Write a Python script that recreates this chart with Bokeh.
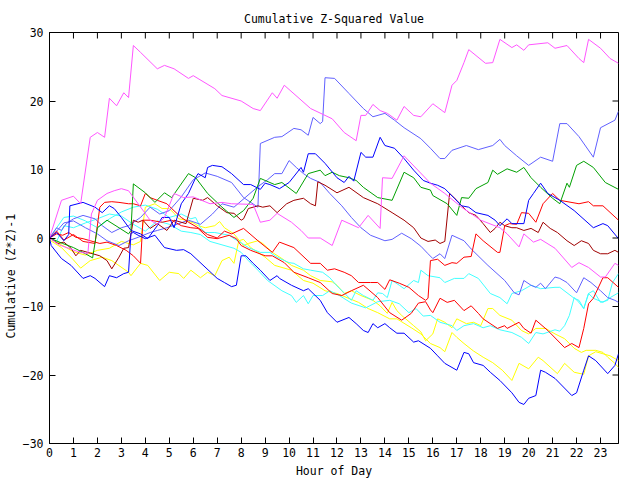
from bokeh.plotting import figure
from bokeh.models import Range1d, FixedTicker, Title
from bokeh.embed import file_html
from bokeh.resources import INLINE

x_ticks = list(range(24))
y_ticks = [-30, -20, -10, 0, 10, 20, 30]

# (hour, cumulative value) pairs
magenta_1 = [(0,0),(0.5,5.5),(1.0,6.1),(1.3,5.0),(1.7,14.7),(2.0,15.4),(2.3,14.7),(2.5,20.4),(2.8,19.3),(3.1,21.2),(3.3,20.5),(3.5,28.1),(3.8,27.1),(4.5,24.7),(4.8,25.2),(5.2,24.7),(5.8,23.3),(6.0,23.7),(6.9,21.8),(7.2,20.8),(8.0,20.0),(8.5,18.9),(8.8,18.6),(9.3,21.2),(9.5,20.4),(9.8,22.3),(10.9,18.9),(11.8,17.4),(12.3,15.4),(12.8,14.2),(13.0,17.9),(13.2,17.9),(13.5,19.5),(13.8,18.6),(14.1,18.2),(14.5,17.2),(14.8,19.2),(15.2,17.9),(15.5,17.7),(16.0,19.6),(16.5,18.3),(16.8,22.3),(17.0,23.0),(17.3,25.6),(17.5,27.5),(18.2,25.5),(18.5,25.6),(18.8,29.0),(19.3,27.8),(19.5,28.2),(19.8,27.4),(20.0,28.2),(20.8,28.5),(21.1,27.7),(21.6,28.1),(22.1,26.2),(22.3,25.6),(22.5,29.0),(23.0,27.7),(23.4,26.2),(23.75,25.5)]
magenta_2 = [(0,0),(0.4,-1.0),(0.8,-1.5),(1.2,-2.0),(1.6,-2.3),(1.75,3.5),(2.0,5.5),(2.4,6.5),(2.7,6.9),(3.0,7.2),(3.3,6.9),(3.7,5.0),(4.2,2.6),(4.5,2.0),(4.8,3.0),(5.2,6.5),(5.6,5.9),(6.0,6.0),(6.7,5.0),(7.2,5.2),(7.6,5.0),(8.5,4.9),(8.8,2.3),(9.2,2.6),(9.5,3.6),(10.1,2.3),(10.5,1.1),(10.8,0.0),(11.3,0.0),(11.8,-1.1),(12.2,2.6),(12.9,1.5),(13.3,3.3),(13.8,1.4),(13.9,8.8),(14.3,8.7),(14.8,12.0),(15.9,8.0),(16.5,6.5),(17.2,4.5),(18.0,2.6),(18.8,1.5),(19.1,0.6),(19.6,-1.3),(19.8,0.6),(20.2,-0.6),(20.5,-0.2),(21.1,-1.5),(21.8,-4.3),(22.1,-3.6),(22.5,-4.3),(23.0,-5.7),(23.2,-5.7),(23.6,-3.7),(23.75,-4.0)]
lightblue_1 = [(0,0),(0.3,1.5),(0.5,1.1),(0.7,2.1),(1.0,2.8),(1.4,3.3),(1.9,2.8),(2.2,1.8),(2.6,0.8),(3.0,1.5),(3.3,1.8),(3.8,3.0),(4.2,4.5),(4.6,3.5),(5.0,4.0),(5.5,6.0),(6.0,8.5),(6.5,9.5),(7.0,9.0),(7.6,8.1),(8.1,5.9),(8.7,4.5),(8.8,13.8),(9.4,14.7),(9.7,14.8),(10.2,16.0),(10.5,15.8),(10.8,15.0),(11.0,17.6),(11.3,16.7),(11.4,17.0),(11.5,23.4),(11.9,23.3),(12.5,21.1),(13.1,18.9),(13.5,17.7),(14.0,18.2),(14.4,17.2),(14.8,16.1),(15.5,14.5),(15.9,13.1),(16.3,11.6),(16.5,11.6),(16.8,12.8),(17.4,13.5),(17.9,12.9),(18.5,13.5),(18.8,14.4),(19.0,13.5),(19.5,12.0),(20.0,10.6),(20.5,11.8),(21.0,11.2),(21.3,16.7),(21.6,16.7),(22.1,14.8),(22.7,11.8),(23.0,16.1),(23.6,17.2),(23.75,18.5)]
green_1 = [(0,0),(0.55,-0.8),(1.0,-1.4),(1.5,-2.3),(1.8,-2.9),(2.0,1.5),(2.4,2.6),(2.9,1.5),(3.3,0.6),(3.4,1.1),(3.5,7.9),(4.0,6.6),(4.4,5.2),(4.8,6.6),(5.1,5.9),(5.8,9.4),(6.1,8.8),(6.6,6.5),(7.2,4.5),(7.7,3.0),(8.1,4.0),(8.5,5.8),(8.8,8.7),(9.0,8.4),(9.4,7.8),(9.7,8.1),(10.3,6.5),(10.8,9.4),(11.3,9.9),(11.5,9.1),(11.8,9.6),(12.1,9.1),(12.5,8.8),(12.8,8.4),(13.1,7.4),(13.7,5.9),(14.3,5.5),(14.8,9.6),(15.2,8.8),(15.5,7.4),(15.9,7.0),(16.0,6.2),(16.6,5.0),(17.0,3.3),(17.2,5.9),(17.5,5.8),(17.8,7.2),(18.3,8.1),(18.5,9.9),(18.7,9.3),(19.1,10.1),(19.5,9.6),(19.8,10.3),(20.1,8.8),(20.5,7.4),(21.0,5.8),(21.3,5.0),(21.6,8.0),(21.7,7.4),(22.0,10.6),(22.3,11.2),(22.7,10.3),(23.2,8.1),(23.75,7.1)]
red_1 = [(0,0),(0.3,1.0),(0.6,-0.3),(1.0,0.5),(1.4,-0.5),(1.9,-0.8),(2.1,4.5),(2.3,5.2),(2.6,5.3),(2.9,5.2),(3.3,5.0),(3.5,5.0),(3.8,4.7),(4.0,6.5),(4.2,5.9),(4.5,5.5),(4.9,5.0),(5.1,4.3),(5.5,3.0),(5.8,2.3),(6.2,1.5),(6.6,0.5),(7.0,0.0),(7.3,1.0),(7.6,0.6),(8.1,1.4),(8.7,-0.4),(9.3,-2.1),(9.6,-0.6),(10.2,-1.4),(10.9,-3.7),(11.3,-3.7),(11.6,-4.7),(11.9,-4.5),(12.3,-5.0),(12.6,-5.5),(12.9,-6.5),(13.4,-6.5),(13.7,-6.5),(14.0,-7.5),(14.2,-6.1),(14.6,-6.6),(15.0,-7.2),(15.4,-8.4),(15.7,-9.1),(15.8,-8.8),(15.9,-3.3),(16.2,-3.1),(16.5,-4.0),(16.8,-3.6),(17.0,-3.7),(17.3,-2.8),(17.6,-2.7),(17.8,0.6),(18.1,-0.4),(18.7,-2.1),(18.8,-2.1),(19.0,1.8),(19.2,2.1),(19.5,2.0),(19.7,3.7),(20.0,3.6),(20.3,2.3),(20.6,5.0),(21.0,6.5),(21.3,5.5),(22.1,5.0),(22.5,5.3),(22.7,4.7),(23.1,4.7),(23.75,2.6)]
blue_1 = [(0,0),(0.3,0.8),(0.6,-0.4),(0.8,0.5),(0.85,4.7),(1.4,5.2),(1.9,4.5),(2.2,3.7),(2.5,4.7),(2.7,4.3),(3.0,3.0),(3.4,1.1),(3.8,0.6),(4.1,-0.1),(4.5,1.8),(4.7,3.0),(5.0,3.0),(5.2,1.5),(5.5,5.0),(5.8,6.5),(6.1,8.8),(6.2,9.4),(6.5,8.8),(6.6,10.3),(6.8,10.6),(7.2,10.4),(7.6,9.4),(8.1,7.8),(8.4,7.8),(8.8,7.1),(9.0,8.0),(9.2,7.8),(9.6,7.2),(10.0,8.1),(10.5,10.3),(10.6,9.6),(10.8,12.3),(11.1,12.3),(11.5,10.9),(12.0,8.8),(12.3,8.1),(12.5,9.0),(12.7,8.3),(13.0,12.5),(13.2,11.8),(13.5,11.8),(13.8,14.7),(14.0,13.5),(14.4,13.1),(14.8,11.6),(15.2,9.9),(15.6,8.4),(15.9,8.0),(16.2,7.7),(16.5,7.2),(16.9,5.8),(17.2,4.7),(17.5,4.5),(17.8,3.7),(18.3,3.3),(18.6,2.6),(18.8,1.8),(19.1,2.8),(19.3,2.1),(19.8,2.1),(20.0,5.5),(20.2,6.5),(20.5,8.0),(20.8,6.5),(21.3,5.5),(21.9,4.0),(22.7,1.5),(23.1,2.1),(23.3,1.8),(23.75,-0.1)]
darkred_1 = [(0,0),(0.35,-0.8),(0.6,-0.6),(0.9,-1.5),(1.1,-2.6),(1.3,-1.8),(1.6,-2.1),(2.1,-2.6),(2.4,-3.3),(2.6,-4.5),(2.9,-2.8),(3.1,-1.5),(3.3,-1.4),(3.5,2.6),(3.7,2.3),(3.9,2.6),(4.2,1.4),(4.5,2.1),(4.9,1.1),(5.2,2.6),(5.7,2.1),(6.0,5.8),(6.4,5.5),(6.6,5.9),(7.0,4.7),(7.4,3.7),(7.7,3.6),(8.0,2.6),(8.1,2.8),(8.3,4.3),(8.7,4.7),(8.9,4.5),(9.2,4.7),(9.5,3.7),(9.9,5.0),(10.2,5.5),(10.6,5.8),(10.9,5.0),(11.1,4.7),(11.2,8.2),(11.5,7.7),(12.0,6.6),(12.5,7.4),(13.1,5.9),(13.7,5.0),(14.3,3.7),(14.8,2.6),(15.2,1.5),(15.5,0.0),(15.8,-0.5),(16.1,-0.3),(16.3,-0.8),(16.5,-0.5),(16.7,6.5),(17.0,5.5),(17.2,4.7),(17.5,3.7),(17.8,3.3),(18.1,2.1),(18.4,0.8),(18.6,1.4),(18.8,2.3),(19.0,1.8),(19.3,1.5),(19.5,1.5),(19.8,1.1),(20.1,1.4),(20.4,0.8),(20.6,2.3),(20.9,1.4),(21.2,0.8),(21.6,-0.4),(21.9,-1.1),(22.2,-0.4),(22.5,-0.8),(22.7,-1.8),(23.0,-2.3),(23.3,-2.3),(23.6,-1.8),(23.75,-2.1)]
red_2 = [(0,0),(0.3,0.6),(0.55,0.4),(0.8,0.8),(1.1,0.1),(1.4,-0.1),(1.7,-0.4),(2.1,-0.8),(2.4,-0.6),(2.8,-1.1),(3.2,-1.8),(3.5,-2.6),(3.8,-3.7),(3.9,2.6),(4.2,2.6),(4.7,2.3),(5.1,2.6),(5.5,1.8),(5.9,1.5),(6.2,1.4),(6.6,0.1),(7.0,-0.1),(7.5,0.4),(7.8,-0.1),(8.0,-1.1),(8.4,-1.8),(9.0,-2.6),(9.3,-2.6),(9.8,-3.6),(10.2,-5.0),(10.8,-5.8),(11.3,-6.5),(11.8,-8.1),(12.2,-8.4),(12.6,-7.7),(13.1,-6.9),(13.7,-8.7),(14.2,-10.9),(14.7,-12.0),(15.1,-11.0),(15.4,-9.5),(15.7,-9.3),(15.9,-10.5),(16.0,-10.9),(16.3,-8.8),(16.6,-9.4),(16.9,-9.1),(17.3,-10.6),(17.6,-9.9),(17.9,-11.0),(18.1,-11.8),(18.7,-13.2),(19.0,-12.8),(19.1,-13.2),(19.6,-12.3),(19.8,-13.2),(20.1,-13.9),(20.3,-12.0),(20.8,-13.5),(21.5,-16.0),(21.8,-15.4),(22.1,-16.0),(22.3,-13.2),(22.5,-9.6),(22.7,-8.8),(23.1,-5.8),(23.3,-5.8),(23.75,-7.2)]
cyan_1 = [(0,0),(0.3,1.5),(0.6,3.0),(1.0,3.2),(1.5,2.5),(2.0,1.5),(2.5,2.8),(3.0,3.8),(3.5,4.5),(4.0,4.8),(4.5,4.2),(5.0,3.0),(5.5,3.5),(5.9,2.8),(6.1,3.0),(6.3,1.5),(6.5,0.8),(6.9,0.8),(7.2,0.6),(7.5,0.4),(7.7,-0.1),(8.0,-0.7),(8.3,-1.4),(8.8,-2.1),(9.2,-2.1),(9.5,-2.8),(10.0,-3.6),(10.2,-3.7),(10.6,-4.5),(10.9,-4.7),(11.4,-5.0),(11.7,-5.8),(12.0,-7.0),(12.3,-8.0),(12.6,-9.1),(12.8,-7.7),(13.1,-8.4),(13.5,-9.1),(13.7,-8.0),(13.9,-8.1),(14.1,-8.7),(14.3,-6.2),(14.6,-6.9),(14.8,-7.4),(15.2,-6.2),(15.4,-6.5),(15.5,-4.7),(15.8,-5.5),(16.3,-5.8),(16.5,-6.5),(16.9,-5.9),(17.3,-5.9),(17.5,-5.2),(17.9,-5.9),(18.4,-8.1),(18.8,-8.7),(19.1,-9.6),(19.3,-8.1),(19.7,-7.7),(20.1,-6.9),(20.5,-7.4),(21.1,-7.2),(21.3,-7.2),(21.9,-8.8),(22.1,-9.1),(22.3,-10.3),(22.5,-8.1),(22.7,-8.8),(23.1,-9.4),(23.4,-8.7),(23.75,-8.0)]
cyan_2 = [(0,0),(0.3,-0.5),(0.6,1.8),(1.0,1.5),(1.5,2.2),(2.0,2.8),(2.5,3.5),(3.0,3.2),(3.5,2.0),(4.0,1.0),(4.5,2.5),(5.0,2.0),(5.5,1.0),(5.9,0.8),(6.3,0.5),(6.7,-0.5),(7.2,-1.0),(7.7,-1.5),(8.0,-2.1),(8.3,-3.3),(8.7,-4.7),(9.1,-6.2),(9.7,-7.7),(10.1,-8.4),(10.3,-9.4),(10.6,-8.4),(10.8,-9.6),(11.0,-8.4),(11.4,-8.4),(11.7,-7.7),(12.1,-8.4),(12.6,-9.5),(13.2,-10.2),(13.7,-9.3),(14.2,-9.1),(14.6,-9.6),(15.0,-10.9),(15.3,-10.3),(15.6,-11.4),(15.9,-11.3),(16.3,-12.3),(16.8,-12.8),(17.0,-13.5),(17.3,-12.8),(17.7,-12.5),(18.1,-13.1),(18.4,-12.8),(18.8,-13.4),(19.3,-13.8),(19.7,-14.5),(20.0,-15.4),(20.3,-13.8),(20.6,-14.0),(21.1,-13.4),(21.3,-13.6),(21.5,-12.8),(21.7,-11.3),(21.9,-8.7),(22.1,-9.4),(22.3,-10.3),(22.5,-8.1),(22.7,-7.7),(23.0,-9.4),(23.3,-9.1),(23.5,-6.5),(23.75,-5.2)]
lightblue_2 = [(0,0),(0.3,1.0),(0.6,2.2),(1.0,2.5),(1.5,1.5),(2.0,0.6),(2.4,-0.4),(2.9,-1.1),(3.3,-0.4),(3.7,0.1),(4.2,0.8),(4.5,1.1),(4.9,1.5),(5.4,2.1),(5.8,2.6),(6.3,2.0),(6.8,3.5),(7.2,5.0),(7.7,4.5),(8.2,6.0),(8.7,7.5),(9.1,8.5),(9.4,9.4),(9.7,9.4),(10.0,11.3),(10.3,10.3),(10.6,9.4),(10.9,8.7),(11.3,8.1),(11.7,6.5),(12.2,4.7),(12.6,3.0),(13.0,1.5),(13.4,0.4),(14.0,-0.4),(14.3,-0.2),(14.7,0.7),(15.1,-0.1),(15.5,-1.2),(15.8,-2.3),(16.0,-3.0),(16.3,-2.3),(16.5,-3.0),(16.8,0.4),(17.3,-0.4),(17.6,-1.6),(18.3,-4.0),(19.0,-6.2),(19.4,-8.0),(19.6,-8.3),(19.8,-6.2),(20.1,-6.9),(20.3,-7.2),(20.5,-6.6),(20.7,-7.4),(21.1,-5.7),(21.3,-5.9),(21.6,-6.5),(22.0,-8.0),(22.3,-5.8),(22.6,-6.5),(23.0,-7.7),(23.3,-8.7),(23.6,-9.1),(23.75,-9.4)]
blue_2 = [(0,0),(0.07,-1.1),(0.5,-3.0),(0.9,-4.0),(1.4,-5.9),(1.7,-5.5),(1.9,-5.9),(2.3,-7.1),(2.5,-5.5),(2.8,-5.8),(3.1,-5.2),(3.3,-5.0),(3.4,0.7),(3.5,0.8),(3.7,0.4),(4.0,-0.1),(4.4,0.4),(4.8,-1.4),(5.3,-1.8),(5.6,-1.7),(5.9,-2.3),(7.0,-5.9),(7.3,-6.5),(7.6,-7.1),(7.8,-6.9),(8.0,-2.6),(8.2,-2.6),(8.5,-3.7),(8.8,-4.7),(9.2,-6.2),(9.5,-5.5),(9.6,-5.9),(10.1,-6.9),(10.6,-7.7),(10.8,-7.4),(11.3,-9.1),(11.6,-10.9),(12.0,-12.3),(12.5,-11.6),(12.8,-12.5),(13.1,-13.5),(13.3,-13.8),(13.5,-12.5),(13.7,-13.1),(14.0,-12.5),(14.2,-13.1),(14.5,-13.9),(14.8,-13.9),(15.2,-15.2),(15.4,-15.0),(15.9,-16.1),(16.2,-17.2),(16.5,-18.3),(17.0,-19.3),(17.3,-16.7),(17.5,-16.9),(17.7,-18.2),(18.1,-18.6),(18.4,-19.6),(18.8,-20.8),(19.3,-22.6),(19.6,-24.0),(19.8,-24.3),(20.0,-23.4),(20.3,-23.0),(20.5,-19.3),(20.7,-19.6),(21.1,-20.5),(21.8,-23.0),(22.0,-22.6),(22.3,-19.3),(22.5,-17.2),(22.8,-17.9),(23.3,-19.8),(23.6,-18.6),(23.75,-16.9)]
yellow_1 = [(0,0),(0.5,-1.0),(1.0,-2.0),(1.5,-2.5),(2.0,-1.8),(2.5,-1.5),(3.0,-0.5),(3.5,-1.0),(3.8,-0.5),(4.0,4.5),(4.4,5.0),(4.7,4.3),(5.0,4.3),(5.2,3.6),(5.4,2.8),(5.7,2.6),(6.0,2.2),(6.2,1.8),(6.5,1.5),(6.9,1.8),(7.1,2.4),(7.3,1.5),(7.7,0.6),(8.0,-0.7),(8.1,-1.1),(8.3,-0.8),(8.7,-0.4),(8.9,-0.8),(9.3,-2.1),(9.7,-3.0),(10.1,-4.0),(10.6,-4.7),(10.9,-5.5),(11.3,-6.2),(11.8,-6.4),(12.0,-6.9),(12.3,-8.1),(12.6,-7.7),(13.0,-8.4),(13.5,-9.1),(13.8,-9.9),(14.1,-11.0),(14.3,-9.4),(14.5,-10.6),(14.7,-11.3),(15.2,-12.8),(15.5,-13.7),(15.7,-15.0),(16.0,-14.0),(16.2,-11.8),(16.5,-12.3),(16.8,-13.1),(17.0,-11.8),(17.4,-12.5),(17.7,-12.3),(18.0,-12.8),(18.3,-10.3),(18.5,-10.3),(18.8,-11.3),(19.3,-12.0),(19.7,-13.5),(20.0,-14.0),(20.3,-13.2),(20.7,-13.2),(21.1,-14.0),(21.5,-14.7),(21.9,-16.1),(22.2,-16.7),(22.4,-16.4),(22.8,-16.4),(23.1,-16.7),(23.3,-17.4),(23.6,-18.3),(23.75,-18.9)]
yellow_2 = [(0,0),(0.05,-0.4),(0.5,-1.4),(1.0,-3.2),(1.3,-4.4),(1.7,-3.3),(2.2,-2.8),(2.6,-3.3),(3.3,-5.0),(3.4,-5.5),(3.8,-3.7),(4.1,-4.0),(4.6,-6.2),(5.0,-5.0),(5.4,-5.2),(5.6,-5.9),(5.9,-4.7),(6.3,-5.8),(6.6,-5.0),(6.9,-5.5),(7.2,-3.3),(7.5,-2.8),(7.7,-3.7),(7.9,-0.4),(8.1,-0.2),(8.4,-1.4),(9.0,-2.8),(9.4,-4.0),(10.1,-4.7),(10.6,-6.2),(11.0,-6.6),(11.5,-7.7),(12.0,-8.1),(12.9,-9.4),(13.3,-10.3),(13.7,-10.9),(14.2,-11.8),(14.5,-11.8),(15.1,-13.1),(15.5,-14.0),(15.9,-15.4),(16.3,-16.0),(16.5,-16.6),(16.8,-13.8),(17.0,-14.5),(17.3,-15.4),(17.7,-16.5),(18.1,-17.4),(18.5,-18.2),(18.9,-19.3),(19.3,-20.8),(19.6,-18.3),(20.0,-19.1),(20.4,-17.4),(20.6,-17.9),(21.2,-19.8),(21.5,-18.3),(21.9,-19.6),(22.3,-19.9),(22.5,-17.2),(22.8,-16.6),(23.1,-16.9),(23.4,-17.2),(23.75,-17.9)]

series = [
    (yellow_1, "#ffff00"), (yellow_2, "#ffff00"),
    (cyan_1, "#40ffff"), (cyan_2, "#40ffff"),
    (lightblue_2, "#6060ff"), (lightblue_1, "#6060ff"),
    (darkred_1, "#a00000"),
    (red_2, "#ff0000"), (red_1, "#ff0000"),
    (green_1, "#00a000"),
    (blue_2, "#0000ff"), (blue_1, "#0000ff"),
    (magenta_2, "#ff55ff"), (magenta_1, "#ff55ff"),
]

FONT = "DejaVu Sans Mono"
X0, X1, Y0, Y1 = 0, 23.75, -30, 30
BL, BR, BT, BB = 48, 22, 32, 37
W, H = 640, 480

p = figure(width=W, height=H, output_backend="svg", toolbar_location=None,
           x_range=Range1d(X0, X1), y_range=Range1d(Y0, Y1),
           min_border_left=BL, min_border_right=BR, min_border_top=BT, min_border_bottom=BB)
p.background_fill_color = "white"
p.border_fill_color = "white"
p.outline_line_color = "black"
p.outline_line_width = 1
p.grid.visible = False

t = Title(text="Cumulative Z-Squared Value", align="center", text_font=FONT,
          text_font_size="11.5px", text_font_style="normal", text_color="black", standoff=14)
p.add_layout(t, "above")

for pts, color in series:
    xs = [a for a, b in pts]
    ys = [b for a, b in pts]
    p.line(xs, ys, line_color=color, line_width=1)

def style(ax, ticks):
    ax.ticker = FixedTicker(ticks=ticks)
    ax.major_tick_in = 6
    ax.major_tick_out = 0
    ax.minor_tick_line_color = None
    ax.axis_line_color = "black"
    ax.major_tick_line_color = "black"
    ax.major_label_text_font = FONT
    ax.major_label_text_font_size = "11.5px"
    ax.major_label_text_color = "black"
    ax.axis_label_text_font = FONT
    ax.axis_label_text_font_size = "11.5px"
    ax.axis_label_text_font_style = "normal"
    ax.axis_label_text_color = "black"

xa = p.xaxis[0]
ya = p.yaxis[0]
style(xa, x_ticks)
style(ya, y_ticks)
xa.axis_label = "Hour of Day"
xa.major_label_standoff = 4
xa.axis_label_standoff = 4
ya.major_label_standoff = 6

# y-axis title, placed lower along the axis as in the reference
yt = Title(text="Cumulative (Z*Z)-1", align="left", offset=105, text_font=FONT,
           text_font_size="11.5px", text_font_style="normal", text_color="black", standoff=3)
p.add_layout(yt, "left")

# mirrored inward ticks on the top and right edges
fw = W - BL - BR
fh = H - BT - BB
tick_dy = 6 * (Y1 - Y0) / fh
tick_dx = 6 * (X1 - X0) / fw
p.segment(x0=x_ticks, y0=[Y1] * len(x_ticks), x1=x_ticks, y1=[Y1 - tick_dy] * len(x_ticks),
          line_color="black", line_width=1)
p.segment(x0=[X1] * len(y_ticks), y0=y_ticks, x1=[X1 - tick_dx] * len(y_ticks), y1=y_ticks,
          line_color="black", line_width=1)

open("out.html", "w").write(file_html(p, INLINE))
